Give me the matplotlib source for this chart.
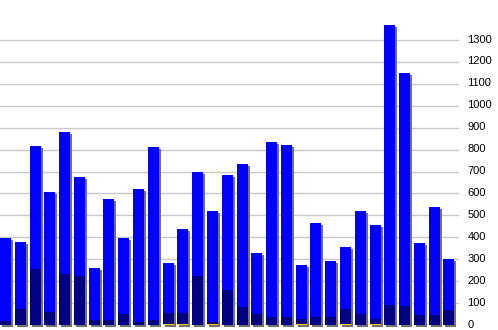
import matplotlib
matplotlib.use('Agg')
import matplotlib.pyplot as plt
import matplotlib.transforms as mtransforms
import numpy as np

# values
totals = [397, 379, 817, 607, 880, 675, 260, 575, 397, 620, 812, 283, 438, 698, 520, 684,
          734, 328, 835, 821, 274, 465, 292, 356, 520, 456, 1369, 1150, 374, 538, 301]
dark = [18, 73, 255, 59, 233, 224, 23, 23, 50, 14, 23, 55, 55, 224, 14, 160,
        82, 50, 37, 37, 27, 37, 37, 73, 50, 27, 91, 87, 46, 46, 68]
yellow = [0, 0, 0, 0, 0, 0, 0, 0, 0, 0, 0, 4, 4, 0, 4, 0,
          0, 0, 0, 0, 4, 0, 0, 4, 0, 4, 0, 0, 0, 0, 0]
yticks = list(range(0, 1400, 100))

W, H = 498, 330
fig = plt.figure(figsize=(W / 100, H / 100), dpi=100)
# plot area: x 0..459 px, baseline at y=325 px from top
ax = fig.add_axes([0, 5 / H, 459 / W, 325 / H])

x = np.arange(len(totals))
width = 0.744

# drop shadow, 2px right and 2px down
shadow_tr = mtransforms.offset_copy(ax.transData, fig=fig, x=2, y=-2, units='dots')
ax.bar(x, totals, width, color='#727272', transform=shadow_tr, clip_on=False,
       zorder=2, antialiased=False)

ax.bar(x, totals, width, color='#0000ff', zorder=3, antialiased=False)
ax.bar(x, dark, width, color='#000080', zorder=4, antialiased=False)
ax.bar(x, yellow, width, color='#ffcc00', zorder=5, antialiased=False)

ax.set_xlim(-0.372, 30.68)
ax.set_ylim(0, 325 / 0.2192)
ax.set_xticks([])
ax.set_yticks(yticks)
ax.yaxis.tick_right()
ax.tick_params(axis='y', length=0, pad=6)
ax.grid(axis='y', color='#c8c8c8', linewidth=1)
ax.set_axisbelow(True)
for s in ax.spines.values():
    s.set_visible(False)
ax.patch.set_alpha(0)

# labels nudged up a little so the bottom "0" stays inside the canvas
nudge = mtransforms.ScaledTranslation(0, 1.5 / 100, fig.dpi_scale_trans)
for lbl in ax.get_yticklabels():
    lbl.set_fontfamily('Liberation Sans')
    lbl.set_fontsize(8)
    lbl.set_horizontalalignment('left')
    lbl.set_transform(lbl.get_transform() + nudge)

fig.savefig('out.png', dpi=100)
